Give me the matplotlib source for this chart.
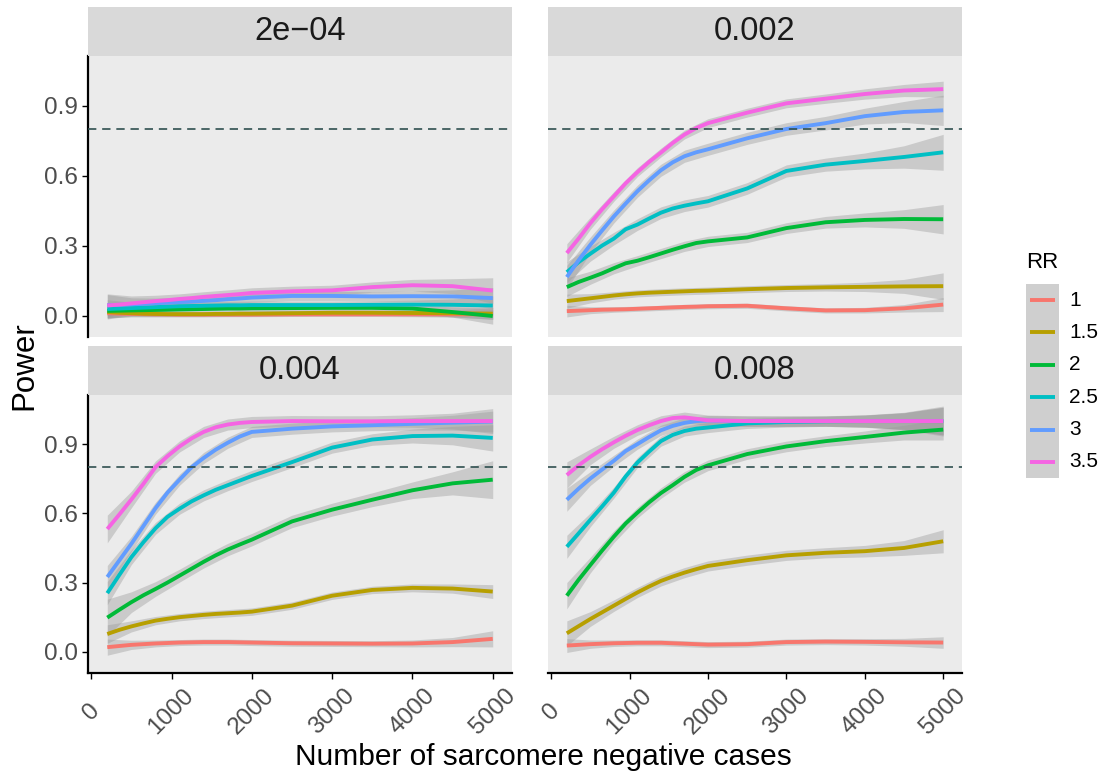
import matplotlib
matplotlib.use("Agg")
import matplotlib.pyplot as plt

plt.rcParams['font.family'] = ['Liberation Sans', 'DejaVu Sans']

# sample sizes along x (smoothed curve)
n_cases = [200, 350, 500, 650, 800, 950, 1100, 1250, 1400, 1550, 1700, 1850, 2000,
           2500, 3000, 3500, 4000, 4500, 5000]
# x positions where the ribbon widths were read
band_cases = [200, 500, 800, 1100, 1400, 1700, 2000, 2500, 3000, 3500, 4000, 4500, 5000]

rr_levels = ['1', '1.5', '2', '2.5', '3', '3.5']
rr_colors = ['#F8766D', '#B79F00', '#00BA38', '#00BFC4', '#619CFF', '#F564E3']
alpha_labels = ['2e\u221204', '0.002', '0.004', '0.008']

# smoothed power per RR (order: 1, 1.5, 2, 2.5, 3, 3.5)
power_2e04 = [
    [0.010, 0.008, 0.007, 0.006, 0.005, 0.005, 0.004, 0.004, 0.004, 0.004, 0.004, 0.004, 0.004,
     0.005, 0.005, 0.005, 0.005, 0.005, 0.005],
    [0.015, 0.012, 0.010, 0.008, 0.007, 0.006, 0.006, 0.006, 0.006, 0.007, 0.007, 0.008, 0.008,
     0.010, 0.012, 0.012, 0.011, 0.010, 0.008],
    [0.020, 0.021, 0.022, 0.023, 0.024, 0.025, 0.026, 0.027, 0.028, 0.029, 0.030, 0.030, 0.031,
     0.032, 0.033, 0.033, 0.030, 0.015, -0.002],
    [0.028, 0.030, 0.032, 0.034, 0.036, 0.038, 0.040, 0.041, 0.042, 0.043, 0.044, 0.044, 0.045,
     0.045, 0.045, 0.046, 0.047, 0.046, 0.043],
    [0.045, 0.046, 0.048, 0.050, 0.053, 0.055, 0.058, 0.060, 0.063, 0.066, 0.070, 0.073, 0.077,
     0.084, 0.084, 0.082, 0.083, 0.082, 0.075],
    [0.043, 0.047, 0.052, 0.057, 0.062, 0.066, 0.071, 0.075, 0.080, 0.084, 0.088, 0.092, 0.097,
     0.104, 0.108, 0.122, 0.130, 0.126, 0.107],
]
power_002 = [
    [0.019, 0.021, 0.023, 0.025, 0.026, 0.027, 0.029, 0.031, 0.033, 0.035, 0.037, 0.038, 0.040,
     0.042, 0.031, 0.022, 0.023, 0.031, 0.047],
    [0.062, 0.068, 0.074, 0.080, 0.086, 0.091, 0.095, 0.098, 0.100, 0.102, 0.104, 0.106, 0.107,
     0.113, 0.118, 0.121, 0.123, 0.125, 0.126],
    [0.122, 0.144, 0.162, 0.181, 0.203, 0.224, 0.235, 0.250, 0.266, 0.282, 0.297, 0.311, 0.318,
     0.335, 0.375, 0.400, 0.410, 0.414, 0.413],
    [0.186, 0.229, 0.265, 0.300, 0.330, 0.370, 0.390, 0.416, 0.441, 0.459, 0.471, 0.481, 0.490,
     0.545, 0.620, 0.647, 0.663, 0.680, 0.700],
    [0.165, 0.237, 0.303, 0.365, 0.425, 0.480, 0.533, 0.580, 0.623, 0.657, 0.683, 0.700, 0.713,
     0.760, 0.800, 0.825, 0.855, 0.873, 0.880],
    [0.268, 0.330, 0.396, 0.456, 0.511, 0.567, 0.615, 0.659, 0.699, 0.740, 0.776, 0.804, 0.825,
     0.870, 0.910, 0.930, 0.950, 0.965, 0.971],
]
power_004 = [
    [0.020, 0.025, 0.030, 0.033, 0.036, 0.038, 0.040, 0.041, 0.042, 0.042, 0.042, 0.041, 0.040,
     0.037, 0.036, 0.035, 0.036, 0.042, 0.056],
    [0.077, 0.095, 0.110, 0.123, 0.135, 0.143, 0.150, 0.155, 0.160, 0.164, 0.167, 0.170, 0.174,
     0.200, 0.243, 0.268, 0.277, 0.274, 0.261],
    [0.148, 0.182, 0.215, 0.245, 0.272, 0.300, 0.330, 0.360, 0.390, 0.418, 0.443, 0.465, 0.486,
     0.565, 0.616, 0.659, 0.700, 0.730, 0.746],
    [0.254, 0.333, 0.410, 0.475, 0.535, 0.585, 0.620, 0.652, 0.678, 0.702, 0.722, 0.742, 0.762,
     0.822, 0.885, 0.920, 0.935, 0.937, 0.927],
    [0.324, 0.396, 0.468, 0.545, 0.622, 0.690, 0.746, 0.800, 0.840, 0.876, 0.906, 0.933, 0.953,
     0.967, 0.977, 0.982, 0.988, 0.993, 0.998],
    [0.532, 0.595, 0.660, 0.728, 0.800, 0.848, 0.890, 0.925, 0.953, 0.973, 0.985, 0.992, 0.996,
     1.000, 0.999, 0.999, 1.000, 1.000, 1.000],
]
power_008 = [
    [0.027, 0.030, 0.033, 0.035, 0.037, 0.038, 0.039, 0.039, 0.039, 0.037, 0.035, 0.033, 0.031,
     0.033, 0.042, 0.044, 0.043, 0.041, 0.040],
    [0.080, 0.111, 0.142, 0.171, 0.200, 0.229, 0.257, 0.283, 0.307, 0.326, 0.343, 0.358, 0.372,
     0.397, 0.418, 0.429, 0.436, 0.450, 0.479],
    [0.243, 0.312, 0.376, 0.439, 0.499, 0.556, 0.603, 0.648, 0.688, 0.722, 0.758, 0.788, 0.808,
     0.857, 0.890, 0.913, 0.931, 0.950, 0.963],
    [0.455, 0.513, 0.572, 0.630, 0.690, 0.760, 0.820, 0.868, 0.913, 0.940, 0.957, 0.967, 0.972,
     0.990, 0.996, 0.999, 1.000, 1.000, 1.000],
    [0.659, 0.707, 0.751, 0.790, 0.828, 0.870, 0.900, 0.931, 0.960, 0.979, 0.992, 1.000, 1.002,
     1.000, 0.999, 1.000, 1.000, 1.000, 1.000],
    [0.766, 0.808, 0.845, 0.878, 0.908, 0.936, 0.961, 0.982, 1.000, 1.013, 1.016, 1.010, 1.003,
     1.000, 1.000, 1.000, 1.000, 1.000, 1.000],
]

# half-width of the confidence ribbons at band_cases
band_2e04 = [
    [0.020, 0.012, 0.010, 0.009, 0.009, 0.009, 0.009, 0.009, 0.009, 0.009, 0.010, 0.012, 0.020],
    [0.025, 0.015, 0.012, 0.011, 0.011, 0.011, 0.011, 0.011, 0.011, 0.011, 0.012, 0.015, 0.025],
    [0.035, 0.022, 0.017, 0.015, 0.015, 0.015, 0.015, 0.015, 0.015, 0.015, 0.017, 0.022, 0.035],
    [0.040, 0.025, 0.019, 0.017, 0.017, 0.017, 0.017, 0.017, 0.017, 0.017, 0.019, 0.025, 0.040],
    [0.045, 0.028, 0.022, 0.020, 0.020, 0.020, 0.020, 0.020, 0.020, 0.020, 0.022, 0.028, 0.045],
    [0.050, 0.032, 0.025, 0.022, 0.022, 0.022, 0.022, 0.022, 0.022, 0.022, 0.025, 0.032, 0.055],
]
band_002 = [
    [0.025, 0.015, 0.012, 0.011, 0.011, 0.011, 0.011, 0.011, 0.011, 0.011, 0.012, 0.016, 0.030],
    [0.030, 0.020, 0.016, 0.015, 0.015, 0.015, 0.015, 0.015, 0.015, 0.016, 0.020, 0.030, 0.057],
    [0.040, 0.028, 0.024, 0.022, 0.022, 0.022, 0.022, 0.022, 0.023, 0.025, 0.030, 0.040, 0.063],
    [0.045, 0.032, 0.027, 0.025, 0.025, 0.025, 0.025, 0.025, 0.026, 0.028, 0.034, 0.048, 0.077],
    [0.050, 0.034, 0.028, 0.026, 0.026, 0.026, 0.026, 0.026, 0.027, 0.029, 0.034, 0.045, 0.065],
    [0.040, 0.026, 0.021, 0.019, 0.019, 0.019, 0.019, 0.019, 0.019, 0.020, 0.022, 0.026, 0.034],
]
band_004 = [
    [0.035, 0.020, 0.015, 0.013, 0.013, 0.013, 0.013, 0.013, 0.013, 0.013, 0.015, 0.020, 0.035],
    [0.040, 0.024, 0.018, 0.016, 0.016, 0.016, 0.016, 0.016, 0.016, 0.016, 0.017, 0.020, 0.030],
    [0.080, 0.045, 0.032, 0.028, 0.027, 0.027, 0.027, 0.027, 0.028, 0.030, 0.036, 0.050, 0.082],
    [0.050, 0.032, 0.026, 0.024, 0.024, 0.024, 0.024, 0.024, 0.024, 0.025, 0.030, 0.040, 0.057],
    [0.050, 0.032, 0.026, 0.024, 0.024, 0.024, 0.024, 0.024, 0.024, 0.024, 0.027, 0.032, 0.045],
    [0.060, 0.036, 0.027, 0.024, 0.024, 0.024, 0.024, 0.024, 0.024, 0.024, 0.027, 0.034, 0.054],
]
band_008 = [
    [0.030, 0.018, 0.014, 0.013, 0.013, 0.013, 0.013, 0.013, 0.013, 0.013, 0.014, 0.017, 0.025],
    [0.054, 0.032, 0.025, 0.022, 0.022, 0.022, 0.022, 0.022, 0.022, 0.022, 0.025, 0.032, 0.050],
    [0.057, 0.034, 0.026, 0.023, 0.023, 0.023, 0.023, 0.023, 0.023, 0.023, 0.026, 0.032, 0.045],
    [0.050, 0.030, 0.024, 0.022, 0.022, 0.022, 0.022, 0.022, 0.022, 0.022, 0.026, 0.036, 0.060],
    [0.050, 0.030, 0.024, 0.022, 0.022, 0.022, 0.022, 0.022, 0.022, 0.022, 0.026, 0.036, 0.060],
    [0.057, 0.034, 0.026, 0.023, 0.023, 0.023, 0.023, 0.023, 0.023, 0.023, 0.027, 0.038, 0.065],
]

power_sets = [power_2e04, power_002, power_004, power_008]
band_sets = [band_2e04, band_002, band_004, band_008]
band_idx = [n_cases.index(x) for x in band_cases]

W, H = 1105, 778


def box(x0, y0, x1, y1):
    return [x0 / W, 1 - y1 / H, (x1 - x0) / W, (y1 - y0) / H]


fig = plt.figure(figsize=(W / 100, H / 100), dpi=100)

panel_px = [(88, 56, 512, 337), (548, 56, 962, 337), (88, 395, 512, 673), (548, 395, 962, 673)]
strip_px = [(88, 7, 512, 56), (548, 7, 962, 56), (88, 346, 512, 395), (548, 346, 962, 395)]

for i in range(4):
    ax = fig.add_axes(box(*panel_px[i]))
    ax.set_facecolor('#EBEBEB')
    pw = power_sets[i]
    bd = band_sets[i]
    for k in range(len(rr_levels)):
        mid = [pw[k][j] for j in band_idx]
        lo = [p - b for p, b in zip(mid, bd[k])]
        hi = [p + b for p, b in zip(mid, bd[k])]
        ax.fill_between(band_cases, lo, hi, color='#999999', alpha=0.4, lw=0)
    for k in range(len(rr_levels)):
        ax.plot(n_cases, pw[k], color=rr_colors[k], lw=2.8, solid_capstyle='butt',
                solid_joinstyle='round', zorder=3)
    ax.axhline(0.8, color='#2F4F4F', lw=1.2, ls=(0, (5, 3.5)), zorder=4)

    ax.set_xlim(-40, 5240)
    ax.set_ylim(-0.092, 1.113)
    ax.set_yticks([0, 0.3, 0.6, 0.9])
    ax.set_yticklabels(['0.0', '0.3', '0.6', '0.9'])
    ax.set_xticks([0, 1000, 2000, 3000, 4000, 5000])
    ax.set_xticklabels(['0', '1000', '2000', '3000', '4000', '5000'])
    for s in ax.spines.values():
        s.set_visible(False)
    ax.tick_params(length=4, width=1.0, color='black', labelsize=17.5,
                   labelcolor='#4D4D4D')
    ax.tick_params(axis='y', pad=3)
    ax.tick_params(axis='x', pad=24)

    left = i in (0, 2)
    bottom = i in (2, 3)
    if left:
        ax.spines['left'].set_visible(True)
        ax.spines['left'].set_linewidth(1.6)
        ax.spines['left'].set_color('black')
    else:
        ax.tick_params(axis='y', left=False, labelleft=False)
    if bottom:
        ax.spines['bottom'].set_visible(True)
        ax.spines['bottom'].set_linewidth(1.6)
        ax.spines['bottom'].set_color('black')
        for lbl in ax.get_xticklabels():
            lbl.set_rotation(45)
            lbl.set_ha('center')
            lbl.set_va('center')
    else:
        ax.tick_params(axis='x', bottom=False, labelbottom=False)

    sx = fig.add_axes(box(*strip_px[i]))
    sx.set_facecolor('#D9D9D9')
    sx.set_xticks([])
    sx.set_yticks([])
    for s in sx.spines.values():
        s.set_visible(False)
    sx.text(0.5, 0.5, alpha_labels[i], ha='center', va='center',
            fontsize=23.5, color='#1A1A1A', transform=sx.transAxes)

fig.text(24 / W, 1 - 366 / H, 'Power', rotation=90, ha='center', va='center', fontsize=22.5)
fig.text(543 / W, 1 - 757 / H, 'Number of sarcomere negative cases', ha='center',
         va='center', fontsize=21.5)

# legend
fig.text(1026 / W, 1 - 263 / H, 'RR', ha='left', va='center', fontsize=16)
lg = fig.add_axes(box(1026, 284, 1059, 478))
lg.set_facecolor('#CFCFCF')
lg.set_xlim(0, 1)
lg.set_ylim(len(rr_levels), 0)
lg.set_xticks([])
lg.set_yticks([])
for s in lg.spines.values():
    s.set_visible(False)
for k in range(len(rr_levels)):
    lg.plot([0.12, 0.88], [k + 0.5, k + 0.5], color=rr_colors[k], lw=2.8,
            solid_capstyle='butt')
    fig.text(1069 / W, 1 - (284 + 32.3 * (k + 0.5)) / H, rr_levels[k], ha='left',
             va='center', fontsize=15)

fig.savefig('out.png', dpi=100)
